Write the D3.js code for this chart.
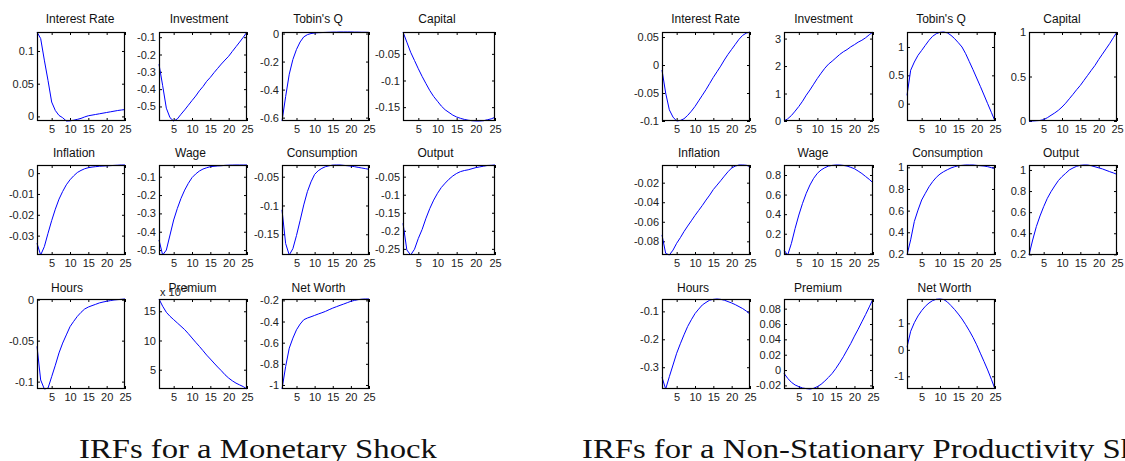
<!DOCTYPE html>
<html><head><meta charset="utf-8">
<script src="https://cdn.jsdelivr.net/npm/d3@7"></script>
<style>body{margin:0;background:#fff}svg{display:block}</style>
</head><body><svg id="c" width="1125" height="461"></svg>
<script>
// ---------- DATA ----------
const periods = d3.range(1, 26);
const xTickValues = [5, 10, 15, 20, 25];
const panelTitles = ["Interest Rate","Investment","Tobin's Q","Capital","Inflation","Wage","Consumption","Output","Hours","Premium","Net Worth"];
const captions = ["IRFs for a Monetary Shock", "IRFs for a Non-Stationary Productivity Shock"];

// Monetary shock
const monInterestRate = [0.129,0.119,0.086,0.055,0.022,0.009,0.0015,-0.002,-0.007,-0.0068,-0.0058,-0.0045,-0.003,-0.0008,0.001,0.002,0.003,0.004,0.005,0.006,0.007,0.008,0.009,0.0098,0.0105];
const monInvestment = [-0.256,-0.38,-0.51,-0.565,-0.584,-0.572,-0.545,-0.52,-0.493,-0.466,-0.44,-0.41,-0.385,-0.355,-0.332,-0.305,-0.28,-0.255,-0.232,-0.21,-0.182,-0.155,-0.128,-0.1,-0.07];
const monTobinsQ = [-0.624,-0.45,-0.29,-0.185,-0.113,-0.06,-0.024,-0.008,0,0.004,0.006,0.007,0.008,0.009,0.010,0.010,0.011,0.011,0.011,0.011,0.010,0.010,0.009,0.009,0.008];
const monCapital = [-0.009,-0.028,-0.047,-0.0625,-0.078,-0.0925,-0.106,-0.119,-0.13,-0.139,-0.148,-0.155,-0.16,-0.165,-0.1685,-0.171,-0.173,-0.1745,-0.1755,-0.176,-0.176,-0.1755,-0.1737,-0.172,-0.169];
const monInflation = [-0.0337,-0.0393,-0.0353,-0.0289,-0.0228,-0.0173,-0.0125,-0.0088,-0.0056,-0.0032,-0.0013,0.0003,0.0013,0.0021,0.0026,0.0029,0.0031,0.0033,0.0034,0.0035,0.0036,0.0037,0.0038,0.0039,0.0039];
const monWage = [-0.445,-0.527,-0.5,-0.418,-0.336,-0.273,-0.218,-0.173,-0.136,-0.105,-0.085,-0.069,-0.058,-0.051,-0.045,-0.043,-0.041,-0.04,-0.038,-0.037,-0.0365,-0.036,-0.036,-0.036,-0.036];
const monConsumption = [-0.1075,-0.166,-0.186,-0.175,-0.152,-0.126,-0.099,-0.076,-0.059,-0.046,-0.0396,-0.0355,-0.0326,-0.031,-0.0299,-0.0297,-0.0297,-0.0303,-0.0309,-0.0315,-0.0326,-0.0338,-0.0349,-0.036,-0.0372];
const monOutput = [-0.179,-0.253,-0.267,-0.251,-0.221,-0.196,-0.165,-0.138,-0.115,-0.096,-0.08,-0.068,-0.057,-0.048,-0.041,-0.036,-0.033,-0.031,-0.028,-0.025,-0.023,-0.021,-0.019,-0.0186,-0.0177];
const monHours = [-0.057,-0.098,-0.109,-0.108,-0.094,-0.08,-0.065,-0.053,-0.043,-0.033,-0.0265,-0.0204,-0.0155,-0.0114,-0.009,-0.0073,-0.0057,-0.004,-0.0029,-0.002,-0.0012,-0.0004,0,0.0004,0.0008];
const monPremium = [17.1,15.86,14.83,14.14,13.57,13.0,12.43,11.86,11.17,10.43,9.7,9.0,8.26,7.5,6.83,6.14,5.46,4.83,4.14,3.57,3.1,2.7,2.4,2.1,1.7]; // x 10^-3
const monNetWorth = [-1.038,-0.826,-0.652,-0.557,-0.478,-0.424,-0.383,-0.367,-0.355,-0.342,-0.329,-0.317,-0.304,-0.288,-0.273,-0.26,-0.247,-0.235,-0.222,-0.209,-0.2,-0.193,-0.189,-0.187,-0.187];

// Non-stationary productivity shock
const prodInterestRate = [-0.009,-0.05,-0.08,-0.093,-0.1,-0.099,-0.096,-0.09,-0.0825,-0.074,-0.064,-0.054,-0.044,-0.033,-0.022,-0.012,-0.002,0.009,0.019,0.028,0.037,0.046,0.053,0.057,0.059];
const prodInvestment = [0,0.08,0.2,0.36,0.53,0.72,0.94,1.13,1.34,1.55,1.74,1.92,2.07,2.18,2.3,2.42,2.52,2.6,2.7,2.78,2.87,2.94,3.03,3.14,3.24];
const prodTobinsQ = [0.147,0.59,0.735,0.853,0.94,1.03,1.118,1.19,1.235,1.26,1.265,1.25,1.206,1.147,1.076,1.0,0.882,0.741,0.6,0.453,0.306,0.153,0,-0.153,-0.306];
const prodCapital = [0,0,0.003,0.006,0.015,0.037,0.064,0.09,0.12,0.157,0.2,0.25,0.3,0.352,0.4,0.457,0.513,0.57,0.625,0.69,0.75,0.81,0.87,0.936,1.0];
const prodInflation = [-0.0735,-0.0923,-0.094,-0.089,-0.082,-0.0763,-0.07,-0.0644,-0.059,-0.0535,-0.0484,-0.0433,-0.0378,-0.0327,-0.027,-0.0225,-0.018,-0.0133,-0.0088,-0.005,-0.003,-0.0019,-0.0019,-0.0022,-0.0036];
const prodWage = [0.034,-0.017,0.102,0.255,0.391,0.51,0.613,0.698,0.766,0.817,0.851,0.874,0.891,0.898,0.902,0.902,0.898,0.891,0.878,0.864,0.84,0.815,0.785,0.755,0.72];
const prodConsumption = [0.19,0.33,0.5,0.605,0.698,0.76,0.82,0.868,0.908,0.938,0.96,0.978,0.994,1.006,1.015,1.018,1.0215,1.0215,1.0215,1.018,1.015,1.012,1.006,0.997,0.99];
const prodOutput = [0.194,0.336,0.463,0.564,0.652,0.731,0.794,0.848,0.899,0.937,0.968,1.0,1.019,1.035,1.044,1.047,1.047,1.04,1.03,1.02,1.01,0.997,0.984,0.972,0.958];
const prodHours = [-0.336,-0.378,-0.334,-0.292,-0.25,-0.216,-0.184,-0.154,-0.13,-0.108,-0.092,-0.077,-0.068,-0.06,-0.057,-0.0557,-0.057,-0.06,-0.065,-0.07,-0.076,-0.083,-0.09,-0.099,-0.11];
const prodPremium = [-0.0043,-0.0108,-0.016,-0.0195,-0.0216,-0.0234,-0.0242,-0.0247,-0.0238,-0.0216,-0.0186,-0.0143,-0.0095,-0.0043,0.0022,0.0095,0.0173,0.026,0.0346,0.0442,0.0532,0.0628,0.0723,0.0823,0.0926];
const prodNetWorth = [0.1,0.7,1.025,1.28,1.48,1.645,1.77,1.86,1.91,1.92,1.9,1.81,1.67,1.52,1.35,1.165,0.95,0.72,0.47,0.19,-0.127,-0.44,-0.76,-1.11,-1.48];

// y tick labels per panel
const monYTicks = [[0,0.05,0.1],[-0.5,-0.4,-0.3,-0.2,-0.1],[-0.6,-0.4,-0.2,0],[-0.15,-0.1,-0.05],
  [-0.03,-0.02,-0.01,0],[-0.5,-0.4,-0.3,-0.2,-0.1],[-0.15,-0.1,-0.05],[-0.25,-0.2,-0.15,-0.1,-0.05],
  [-0.1,-0.05,0],[5,10,15],[-1,-0.8,-0.6,-0.4,-0.2]];
const prodYTicks = [[-0.1,-0.05,0,0.05],[0,1,2,3],[0,0.5,1],[0,0.5,1],
  [-0.08,-0.06,-0.04,-0.02],[0,0.2,0.4,0.6,0.8],[0.2,0.4,0.6,0.8,1],[0.2,0.4,0.6,0.8,1],
  [-0.3,-0.2,-0.1],[-0.02,0,0.02,0.04,0.06,0.08],[-1,0,1]];

const monSeries = [monInterestRate,monInvestment,monTobinsQ,monCapital,monInflation,monWage,monConsumption,monOutput,monHours,monPremium,monNetWorth];
const prodSeries = [prodInterestRate,prodInvestment,prodTobinsQ,prodCapital,prodInflation,prodWage,prodConsumption,prodOutput,prodHours,prodPremium,prodNetWorth];

// ---------- LAYOUT ----------
const colsLeft = [[37,125],[159,247],[282,369],[403,495]];
const colsRight = [[662,750],[784,873],[907,995],[1029,1117]];
const rowsY = [[32,121],[165,255],[299,389]];
const titleY = [18.5,153,287.5];
const titleXLeft = [80,199,318,437, 74,190.5,322,435.5, 67,192.5,318.5];
const titleXRight = [705.5,823.5,941,1062, 699,813,947.5,1061, 693,818,944.5];

const svg = d3.select("#c");
const fmt = v => String(+(+v).toFixed(6));
const FONT = "'Liberation Sans', Arial, sans-serif";

function drawFigure(series, yTicks, cols, titleX, expLabel) {
  series.forEach((vals, i) => {
    const r = Math.floor(i / 4), c = i % 4;
    const [x0, x1] = cols[c], [y0, y1] = rowsY[r];
    const x = d3.scaleLinear().domain([1, 25]).range([x0, x1]);
    const y = d3.scaleLinear().domain(d3.extent(vals)).range([y1, y0]);
    const g = svg.append("g");
    g.append("rect").attr("x", x0).attr("y", y0).attr("width", x1 - x0).attr("height", y1 - y0)
      .attr("fill", "#fff");
    const axB = g.append("g").attr("transform", `translate(0,${y1})`)
      .call(d3.axisBottom(x).tickValues(xTickValues).tickSize(-3).tickPadding(4).tickFormat(fmt));
    const axT = g.append("g").attr("transform", `translate(0,${y0})`)
      .call(d3.axisTop(x).tickValues(xTickValues).tickSize(-3).tickFormat(""));
    const axL = g.append("g").attr("transform", `translate(${x0},0)`)
      .call(d3.axisLeft(y).tickValues(yTicks[i]).tickSize(-3).tickPadding(3).tickFormat(fmt));
    const axR = g.append("g").attr("transform", `translate(${x1},0)`)
      .call(d3.axisRight(y).tickValues(yTicks[i]).tickSize(-3).tickFormat(""));
    [axB, axT, axL, axR].forEach(a => {
      a.select(".domain").remove();
      a.selectAll("line").attr("stroke", "#000");
      a.selectAll("text").attr("font-family", FONT).attr("font-size", 11).attr("fill", "#222");
    });
    g.append("path").datum(vals)
      .attr("fill", "none").attr("stroke", "#0000ff").attr("stroke-width", 1)
      .attr("d", d3.line().x((d, k) => x(periods[k])).y(d => y(d)));
    g.append("rect").attr("x", x0 + 0.5).attr("y", y0 + 0.5).attr("width", x1 - x0 - 1).attr("height", y1 - y0 - 1)
      .attr("fill", "none").attr("stroke", "#000").attr("stroke-width", 1.2);
    if (expLabel && i === 9) {
      const t = g.append("text").attr("x", x0 + 1).attr("y", y0 - 3)
        .attr("font-family", FONT).attr("font-size", 11).attr("fill", "#222");
      t.append("tspan").text("x 10");
      t.append("tspan").attr("dy", -5).attr("font-size", 8).text("-3");
    }
    g.append("text").attr("x", titleX[i]).attr("y", titleY[r]).attr("dy", "0.35em")
      .attr("text-anchor", "middle").attr("font-family", FONT).attr("font-size", 12)
      .attr("fill", "#111").text(panelTitles[i]);
  });
}

drawFigure(monSeries, monYTicks, colsLeft, titleXLeft, true);
drawFigure(prodSeries, prodYTicks, colsRight, titleXRight, false);

// captions
const capStarts = [79, 582];
const capFont = "'Liberation Serif', 'Times New Roman', serif";
const capNodes = captions.map((c, i) => svg.append("text")
  .attr("x", 0).attr("y", 0)
  .attr("font-family", capFont).attr("font-size", 27).attr("fill", "#111").text(c));
const w0 = capNodes[0].node().getComputedTextLength();
const sx = 358 / w0;
capNodes.forEach((n, i) => n.attr("transform", `translate(${capStarts[i]},458) scale(${sx},1)`));
</script>
</body></html>
